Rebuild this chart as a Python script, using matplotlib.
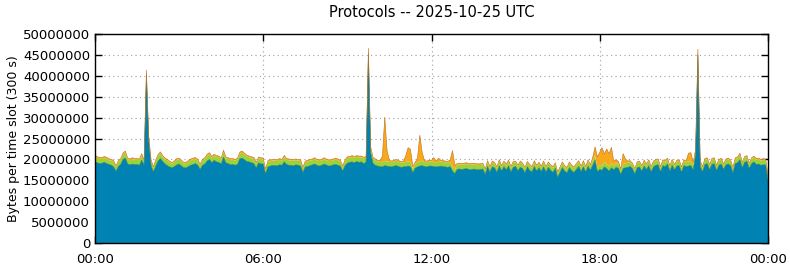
import numpy as np
import matplotlib
matplotlib.use("Agg")
import matplotlib.pyplot as plt
from matplotlib.ticker import FuncFormatter

# bytes per 300 s slot, in millions, 00:00 .. 24:00 (289 slots)
blue = [
    19.4, 19.2, 19.0, 19.1, 19.3, 19.0, 18.8, 18.6, 18.2, 17.2, 18.3, 18.8,  # 00
    20.0, 20.3, 18.9, 18.7, 18.9, 18.8, 18.8, 18.6, 19.8, 18.6, 40.2, 24.5,  # 01
    18.5, 17.0, 18.4, 19.6, 20.2, 19.5, 18.9, 18.5, 18.2, 18.0, 18.3, 18.7,  # 02
    18.9, 18.4, 18.0, 18.0, 18.3, 18.6, 18.8, 19.0, 18.6, 17.6, 18.6, 18.9,  # 03
    19.6, 20.0, 19.2, 19.8, 19.4, 19.3, 18.9, 20.5, 19.2, 19.0, 18.7, 18.8,  # 04
    18.6, 18.8, 20.2, 20.3, 19.9, 19.5, 19.4, 19.2, 19.0, 18.0, 19.2, 18.9,  # 05
    18.9, 16.5, 18.2, 18.4, 18.6, 18.5, 18.5, 18.7, 18.6, 19.4, 18.8, 18.6,  # 06
    18.6, 18.5, 18.7, 18.6, 18.4, 16.9, 18.2, 18.3, 18.5, 18.7, 18.9, 18.6,  # 07
    18.4, 18.6, 18.9, 18.7, 18.4, 18.5, 18.7, 18.8, 18.6, 18.4, 17.2, 18.5,  # 08
    19.1, 19.3, 19.4, 19.2, 19.5, 19.3, 19.4, 19.0, 19.3, 45.2, 21.5, 19.0,  # 09
    18.6, 18.4, 18.3, 18.2, 18.5, 18.4, 18.3, 18.2, 18.4, 18.5, 18.3, 18.1,  # 10
    18.2, 18.3, 18.4, 18.3, 16.8, 17.9, 18.2, 18.4, 18.5, 18.3, 18.2, 18.4,  # 11
    18.4, 18.3, 18.2, 18.3, 18.4, 18.3, 18.2, 18.1, 18.3, 17.2, 16.6, 17.6,  # 12
    17.7, 17.6, 17.7, 17.8, 17.6, 17.5, 17.7, 17.6, 17.5, 17.6, 17.7, 16.4,  # 13
    18.3, 17.0, 18.2, 18.0, 16.9, 18.4, 17.2, 18.3, 17.5, 18.4, 17.0, 18.1,  # 14
    18.3, 17.3, 18.1, 17.8, 16.8, 18.2, 17.4, 17.0, 18.3, 17.2, 18.0, 17.1,  # 15
    18.2, 17.0, 18.1, 17.4, 16.9, 17.9, 15.7, 16.9, 18.0, 17.2, 16.8, 18.0,  # 16
    17.3, 16.9, 17.6, 18.3, 17.1, 18.2, 17.0, 18.4, 17.4, 18.6, 19.8, 17.0,  # 17
    17.6, 17.4, 18.2, 17.8, 17.2, 18.0, 17.5, 18.1, 17.9, 16.4, 17.8, 18.0,  # 18
    18.1, 18.3, 17.8, 16.5, 18.0, 18.2, 17.2, 18.4, 17.6, 18.5, 17.0, 18.2,  # 19
    18.6, 18.7, 17.0, 18.5, 18.3, 18.9, 17.2, 18.6, 17.5, 18.4, 18.5, 16.9,  # 20
    18.5, 18.3, 18.4, 18.5, 17.5, 21.0, 45.0, 18.3, 17.0, 18.8, 19.0, 17.5,  # 21
    18.8, 19.0, 17.3, 18.6, 18.9, 17.6, 18.7, 18.9, 18.5, 16.8, 19.0, 19.2,  # 22
    19.9, 18.0, 19.3, 19.5, 17.8, 19.0, 19.4, 18.8, 18.9, 18.6, 18.7, 18.7,  # 23
    15.0,
]

green = [
    1.2, 1.1, 1.1, 1.0, 1.1, 1.2, 1.0, 1.1, 1.2, 1.0, 1.1, 1.1,
    1.2, 1.3, 1.1, 1.1, 1.2, 1.1, 1.1, 1.2, 1.2, 1.0, 0.8, 0.9,
    1.1, 1.0, 1.2, 1.2, 1.2, 1.1, 1.1, 1.2, 1.1, 1.0, 1.1, 1.2,
    1.1, 1.1, 1.0, 1.1, 1.1, 1.2, 1.2, 1.1, 1.1, 1.0, 1.1, 1.2,
    1.3, 1.2, 1.2, 1.1, 1.2, 1.2, 1.1, 1.3, 1.1, 1.1, 1.2, 1.1,
    1.1, 1.2, 1.2, 1.3, 1.2, 1.2, 1.1, 1.1, 1.2, 1.0, 1.1, 1.2,
    1.1, 1.0, 1.2, 1.2, 1.1, 1.2, 1.1, 1.2, 1.1, 1.2, 1.1, 1.2,
    1.1, 1.2, 1.1, 1.1, 1.2, 1.0, 1.1, 1.2, 1.2, 1.1, 1.2, 1.1,
    1.2, 1.1, 1.2, 1.1, 1.2, 1.1, 1.1, 1.2, 1.2, 1.1, 1.0, 1.1,
    1.2, 1.1, 1.2, 1.2, 1.1, 1.2, 1.1, 1.2, 1.1, 1.0, 1.1, 1.2,
    1.2, 1.1, 1.1, 1.1, 1.1, 1.1, 1.2, 1.1, 1.1, 1.2, 1.1, 1.1,
    1.1, 1.1, 1.1, 1.1, 1.0, 1.1, 1.1, 1.1, 1.2, 1.1, 1.1, 1.1,
    1.1, 1.1, 1.1, 1.1, 1.1, 1.1, 1.1, 1.1, 1.1, 1.1, 1.0, 1.1,
    1.1, 1.1, 1.1, 1.1, 1.1, 1.2, 1.1, 1.1, 1.1, 1.1, 1.1, 1.0,
    1.0, 1.0, 1.1, 1.0, 1.0, 1.1, 1.0, 1.0, 1.1, 1.0, 1.0, 1.1,
    1.0, 1.0, 1.1, 1.0, 1.0, 1.0, 1.1, 1.0, 1.0, 1.1, 1.0, 1.0,
    1.1, 1.0, 1.0, 1.0, 1.1, 1.0, 1.0, 1.0, 1.1, 1.0, 1.0, 1.1,
    1.0, 1.0, 1.1, 1.0, 1.0, 1.1, 1.0, 1.1, 1.0, 1.1, 1.1, 1.1,
    1.1, 1.1, 1.1, 1.1, 1.1, 1.1, 1.1, 1.0, 1.1, 1.0, 1.1, 1.1,
    1.1, 1.1, 1.0, 1.0, 1.1, 1.1, 1.0, 1.1, 1.0, 1.1, 1.0, 1.1,
    1.1, 1.1, 1.0, 1.1, 1.1, 1.1, 1.0, 1.1, 1.0, 1.1, 1.1, 1.0,
    1.1, 1.1, 1.1, 1.1, 1.0, 1.0, 1.0, 1.1, 1.0, 1.1, 1.1, 1.0,
    1.1, 1.1, 1.0, 1.1, 1.1, 1.0, 1.1, 1.1, 1.1, 1.0, 1.1, 1.1,
    1.2, 1.0, 1.1, 1.1, 1.0, 1.1, 1.1, 1.1, 1.1, 1.1, 1.1, 1.1,
    1.0,
]

orange = [
    0.4, 0.35, 0.3, 0.35, 0.3, 0.3, 0.35, 0.3, 0.3, 0.25, 0.3, 0.3,
    0.3, 0.4, 0.3, 0.3, 0.3, 0.3, 0.3, 0.3, 0.35, 0.3, 0.4, 0.3,
    0.3, 0.25, 0.3, 0.35, 0.4, 0.3, 0.3, 0.3, 0.25, 0.25, 0.3, 0.3,
    0.3, 0.3, 0.25, 0.25, 0.3, 0.3, 0.3, 0.35, 0.3, 0.25, 0.3, 0.3,
    0.35, 0.4, 0.3, 0.35, 0.3, 0.3, 0.3, 0.4, 0.3, 0.3, 0.3, 0.3,
    0.3, 0.3, 0.35, 0.4, 0.35, 0.3, 0.3, 0.3, 0.3, 0.25, 0.3, 0.3,
    0.3, 0.25, 0.3, 0.3, 0.3, 0.3, 0.3, 0.3, 0.3, 0.35, 0.3, 0.3,
    0.3, 0.3, 0.3, 0.3, 0.3, 0.25, 0.3, 0.3, 0.3, 0.3, 0.3, 0.3,
    0.3, 0.3, 0.3, 0.3, 0.3, 0.3, 0.3, 0.3, 0.3, 0.3, 0.25, 0.3,
    0.3, 0.3, 0.3, 0.3, 0.3, 0.3, 0.3, 0.3, 0.3, 0.4, 0.3, 0.3,
    0.3, 0.3, 0.3, 1.5, 10.5, 2.5, 0.3, 0.3, 0.3, 0.3, 0.3, 0.3,
    0.3, 1.5, 3.3, 3.0, 0.5, 0.3, 1.0, 6.3, 2.0, 0.3, 0.3, 0.3,
    0.3, 1.0, 0.3, 0.9, 0.3, 0.3, 0.3, 0.3, 0.5, 3.8, 1.0, 0.3,
    0.3, 0.3, 0.3, 0.3, 0.3, 0.3, 0.3, 0.3, 0.3, 0.3, 0.3, 0.3,
    0.4, 0.3, 0.3, 0.3, 0.3, 0.4, 0.3, 0.3, 0.3, 0.4, 0.3, 0.3,
    0.3, 0.3, 0.4, 0.3, 0.3, 0.3, 0.3, 0.3, 0.4, 0.3, 0.3, 0.3,
    0.3, 0.3, 0.3, 0.3, 0.3, 0.3, 0.3, 0.3, 0.3, 0.3, 0.3, 0.3,
    0.3, 0.3, 0.3, 0.4, 0.3, 0.4, 0.3, 0.4, 0.3, 0.8, 2.1, 2.5,
    3.0, 4.3, 2.0, 3.6, 3.0, 3.8, 1.0, 0.8, 0.5, 0.3, 2.5, 1.0,
    0.4, 0.3, 0.3, 0.3, 0.3, 0.3, 0.3, 0.3, 0.3, 0.3, 0.3, 0.3,
    0.3, 0.3, 0.3, 0.3, 0.3, 0.3, 0.3, 0.3, 0.3, 0.3, 0.3, 0.3,
    0.3, 0.3, 2.0, 2.0, 0.8, 0.4, 0.4, 0.3, 0.3, 0.3, 0.3, 0.3,
    0.3, 0.3, 0.3, 0.3, 0.3, 0.3, 0.3, 0.3, 0.3, 0.3, 0.3, 0.3,
    0.4, 0.3, 0.3, 0.3, 0.3, 0.3, 0.3, 0.3, 0.3, 0.3, 0.3, 0.3,
    0.3,
]

title = "Protocols -- 2025-10-25 UTC"
ylabel = "Bytes per time slot (300 s)"
xtick_labels = ["00:00", "06:00", "12:00", "18:00", "00:00"]

# time of each slot in hours
t = np.arange(len(blue)) * 300 / 3600.0
b = np.array(blue) * 1e6
g = np.array(green) * 1e6
o = np.array(orange) * 1e6

fig = plt.figure(figsize=(7.9, 2.67), dpi=100)
ax = fig.add_axes([95 / 790, 24 / 267, 673 / 790, 209 / 267])

#stacked areas, no polygon edges
ax.fill_between(t, 0, b, facecolor="#0082b3", linewidth=0)
ax.fill_between(t, b, b + g, facecolor="#9bd43a", linewidth=0)
ax.fill_between(t, b + g, b + g + o, facecolor="#f8a81c", linewidth=0)

# thin darker top lines of the layers
ax.plot(t, b, color="#2a7560", linewidth=0.4)
ax.plot(t, b + g + o, color="#c0701e", linewidth=0.4)

ax.set_xlim(0, 24)
ax.set_ylim(0, 50e6)
ax.set_xticks([0, 6, 12, 18, 24])
ax.set_xticklabels(xtick_labels)
ax.set_yticks(np.arange(0, 50e6 + 1, 5e6))
ax.yaxis.set_major_formatter(FuncFormatter(lambda v, p: "%d" % v))

ax.set_axisbelow(True)
ax.grid(True, linestyle=(0, (1, 3)), color="#a0a0a0", linewidth=0.8)
ax.tick_params(direction="in", top=True, right=True, length=5, width=1,
               labelsize=9.5, colors="black")
ax.tick_params(axis="x", pad=7)
for s in ax.spines.values():
    s.set_linewidth(1)

ax.set_ylabel(ylabel, fontsize=9, labelpad=2)
ax.set_title(title, fontsize=10.5, pad=12)

fig.savefig("out.png", dpi=100)
